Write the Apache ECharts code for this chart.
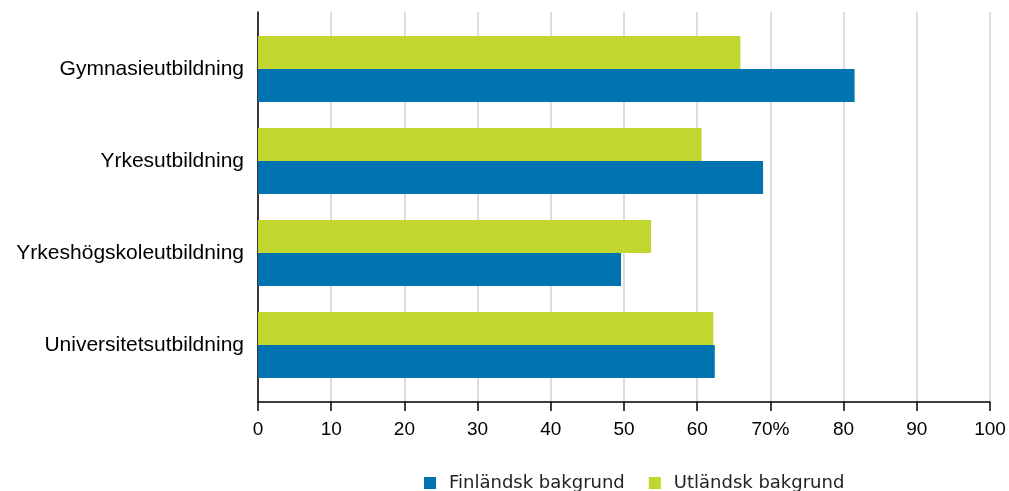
<!DOCTYPE html>
<html>
<head>
<meta charset="utf-8">
<script src="https://cdn.jsdelivr.net/npm/echarts@6/dist/echarts.min.js"></script>
<style>
  html, body { margin: 0; padding: 0; background: #fff; }
  #chart { width: 1009px; height: 491px; }
</style>
</head>
<body>
<div id="chart"></div>
<script>
// kategorier, uppifrån och ned
var categories = ['Gymnasieutbildning', 'Yrkesutbildning', 'Yrkeshögskoleutbildning', 'Universitetsutbildning'];
var seriesNames = ['Finländsk bakgrund', 'Utländsk bakgrund'];
// andel (%)
var finlandsk = [81.5, 69.0, 49.6, 62.4];
var utlandsk = [65.9, 60.6, 53.7, 62.2];
var xTicks = [0, 10, 20, 30, 40, 50, 60, 70, 80, 90, 100];

var blue = '#0073b0';
var green = '#c1d72f';

var chart = echarts.init(document.getElementById('chart'));
var option = {
    animation: false,
    textStyle: { fontFamily: 'Liberation Sans, Arial, sans-serif' },
    legend: {
        data: seriesNames,
        left: 419,
        top: 469,
        icon: 'rect',
        itemWidth: 12,
        itemHeight: 12,
        itemGap: 24,
        textStyle: { fontFamily: 'DejaVu Sans', fontSize: 18, color: '#222', padding: [0, 0, 0, 8] }
    },
    grid: [
        // axlar och stödlinjer
        { left: 258, right: 19, top: 12, bottom: 89 },
        // staplar
        { left: 258, right: 19, top: 23, bottom: 100 }
    ],
    xAxis: [{
        gridIndex: 0,
        type: 'value',
        min: 0,
        max: 100,
        interval: 10,
        axisLine: { show: true, lineStyle: { color: '#000', width: 1.5 } },
        axisTick: { show: true, length: 9, lineStyle: { color: '#000', width: 1.5 } },
        axisLabel: {
            color: '#000',
            fontSize: 19,
            margin: 18,
            formatter: function (v) { return v === 70 ? '70%' : String(v); }
        },
        splitLine: { show: true, lineStyle: { color: '#dddddd', width: 2 } }
    }, {
        gridIndex: 1,
        type: 'value',
        min: 0,
        max: 100,
        show: false
    }],
    yAxis: [{
        gridIndex: 0,
        type: 'value',
        min: 0,
        max: 1,
        axisLine: { show: true, lineStyle: { color: '#000', width: 1.5 } },
        axisTick: { show: false },
        axisLabel: { show: false },
        splitLine: { show: false }
    }, {
        gridIndex: 1,
        type: 'category',
        data: categories,
        inverse: true,
        axisLine: { show: false },
        axisTick: { show: false },
        axisLabel: { color: '#000', fontSize: 21, margin: 14 },
        splitLine: { show: false }
    }],
    series: [{
        name: seriesNames[1],
        type: 'bar',
        xAxisIndex: 1,
        yAxisIndex: 1,
        data: utlandsk,
        itemStyle: { color: green },
        barGap: '0%',
        barCategoryGap: '28%'
    }, {
        name: seriesNames[0],
        type: 'bar',
        xAxisIndex: 1,
        yAxisIndex: 1,
        data: finlandsk,
        itemStyle: { color: blue },
        barGap: '0%',
        barCategoryGap: '28%'
    }]
};
chart.setOption(option);
</script>
</body>
</html>
